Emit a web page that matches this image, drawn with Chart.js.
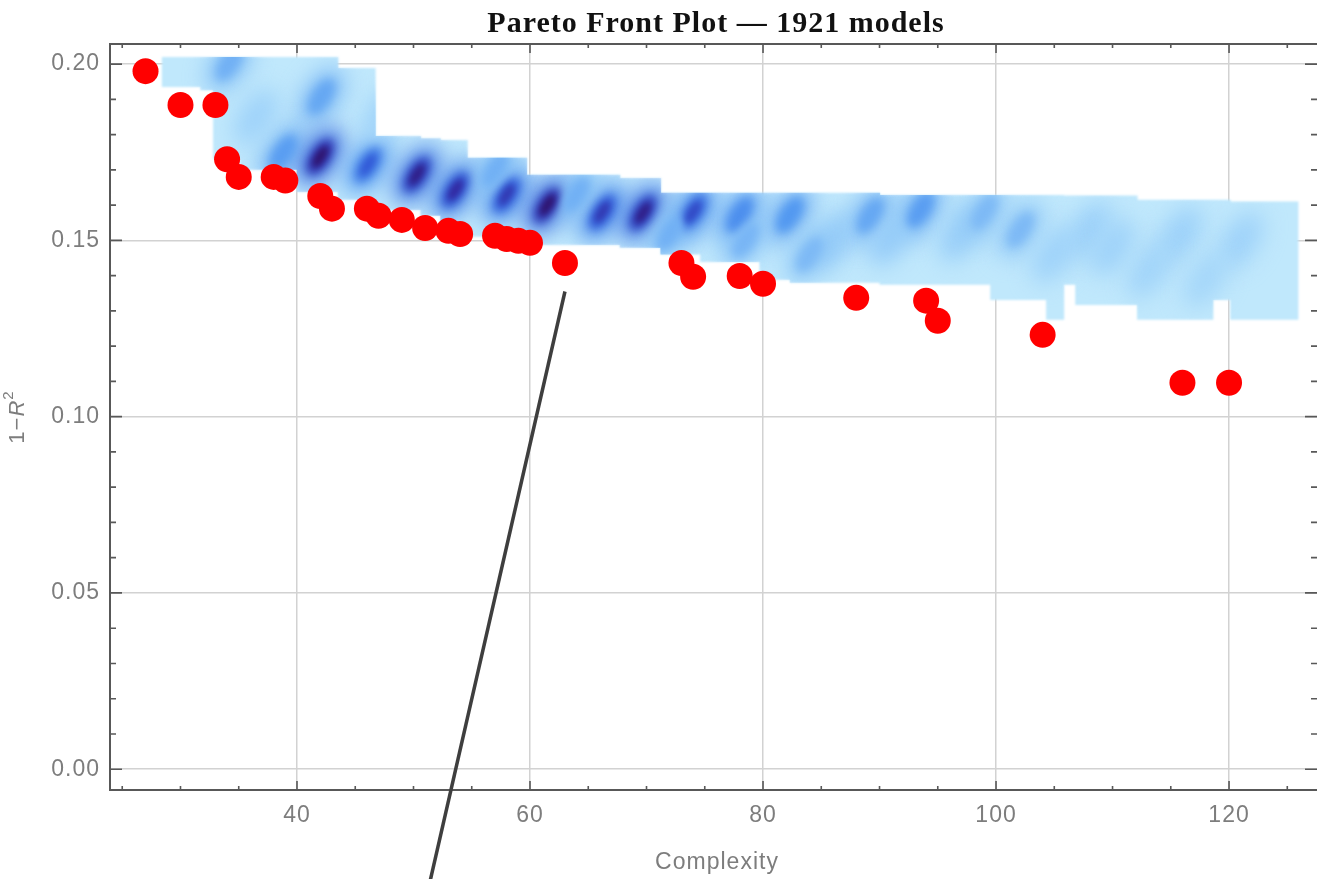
<!DOCTYPE html>
<html><head><meta charset="utf-8">
<script src="https://cdn.jsdelivr.net/npm/chart.js@4.4.1/dist/chart.umd.min.js"></script>
<style>html,body{margin:0;padding:0;background:#fff;overflow:hidden}#wrap{width:1317px;height:879px;position:relative}</style>
</head><body><div id="wrap"><canvas id="c"></canvas></div>
<script>
// Pareto front models (complexity vs 1-R^2)
const paretoComplexity = [27,30,33,34,35,38,39,42,43,46,47,49,51,53,54,57,58,59,60,63,73,74,78,80,88,94,95,104,116,120];
const paretoError = [0.198,0.1884,0.1884,0.173,0.168,0.168,0.167,0.1626,0.159,0.159,0.157,0.1558,0.1535,0.1527,0.1518,0.1513,0.1504,0.1499,0.1493,0.1436,0.1436,0.1397,0.1399,0.1377,0.1337,0.1329,0.1272,0.1232,0.1096,0.1096];
// pointer line
const lineComplexity = [63.0, 51.2];
const lineError = [0.1355, -0.035];
// density band of all models (column spans)
const bandStart = [28.4,31.7,32.8,35.1,40.0,43.5,46.7,50.6,52.3,54.6,59.7,67.7,71.2,74.6,79.7,82.3,90.0,99.5,104.3,105.8,106.8,112.1,118.6,120.1];
const bandEnd   = [31.7,32.8,35.1,40.0,43.5,46.7,50.6,52.3,54.6,59.7,67.7,71.2,74.6,79.7,82.3,90.0,99.5,104.3,105.8,106.8,112.1,118.6,120.1,125.9];
const bandBottom= [0.1935,0.1926,0.173,0.170,0.1637,0.1615,0.1586,0.157,0.1535,0.151,0.1487,0.1479,0.146,0.1439,0.1388,0.138,0.1374,0.1331,0.1275,0.1374,0.1317,0.1275,0.1331,0.1275];
const bandTop   = [0.202,0.202,0.202,0.202,0.202,0.1989,0.1796,0.179,0.1785,0.1734,0.1686,0.1677,0.1635,0.1635,0.1635,0.1635,0.1629,0.1629,0.1629,0.1627,0.1627,0.1615,0.1615,0.1610];
// density concentrations
const spotX = [34.2,42.1,38.8,42.0,46.1,50.3,53.6,58.0,61.5,66.2,69.7,74.0,78.0,82.3,89.2,93.5,102.1,108.0,115.8,113.2,36.5,47.5,57.0,64.0,86.0,97.0,105.0,110.0,121.0,118.0,72.0,78.5,84.0,91.0,99.0];
const spotY = [0.2003,0.1907,0.1748,0.1737,0.1714,0.1686,0.1643,0.1629,0.160,0.158,0.1578,0.158,0.1572,0.1572,0.157,0.1586,0.153,0.153,0.1516,0.1416,0.185,0.186,0.170,0.163,0.150,0.152,0.146,0.148,0.150,0.139,0.152,0.150,0.146,0.151,0.158];
const spotI = [0.45,0.5,0.55,0.95,0.7,0.9,0.85,0.8,0.95,0.8,0.9,0.75,0.62,0.58,0.5,0.55,0.4,0.32,0.32,0.28,0.3,0.3,0.45,0.45,0.38,0.35,0.3,0.3,0.3,0.25,0.45,0.42,0.4,0.38,0.4];
const xTicks = [40,60,80,100,120];
const yTicks = [0.00,0.05,0.10,0.15,0.20];

const FRAME = 'rgb(88,88,88)';
const LABEL = 'rgb(125,125,125)';
const GRID = 'rgb(210,210,210)';

function cmap(t){
  const stops=[[0,[195,233,252]],[0.25,[150,205,248]],[0.5,[80,150,240]],[0.7,[50,90,215]],[0.85,[50,40,160]],[1,[45,10,85]]];
  for(let i=1;i<stops.length;i++){
    if(t<=stops[i][0]){
      const [a,ca]=stops[i-1],[b,cb]=stops[i];const f=(t-a)/(b-a);
      return 'rgb('+ca.map((v,k)=>Math.round(v+(cb[k]-v)*f)).join(',')+')';
    }
  }
  return 'rgb(45,10,85)';
}

const densityPlugin = {
  id:'density',
  beforeDatasetsDraw(chart){
    const {ctx, chartArea:a, scales:{x,y}} = chart;
    ctx.save();
    ctx.beginPath(); ctx.rect(a.left,a.top,a.right-a.left,a.bottom-a.top); ctx.clip();
    const band = new Path2D();
    for(let i=0;i<bandStart.length;i++){
      const x0=x.getPixelForValue(bandStart[i]), x1=x.getPixelForValue(bandEnd[i]);
      const y0=y.getPixelForValue(bandTop[i]), y1=y.getPixelForValue(bandBottom[i]);
      band.rect(x0,y0,x1-x0+0.6,y1-y0);
    }
    ctx.filter='blur(1.2px)';
    ctx.fillStyle='rgb(192,232,252)';
    ctx.fill(band);
    ctx.filter='none';
    ctx.clip(band);
    const passes=[
      {blur:'blur(11px)', rx:32, ry:17, k:0.68, min:0},
      {blur:'blur(5px)', rx:20, ry:9.5, k:0.85, min:0.4},
      {blur:'blur(3px)', rx:12, ry:5, k:1.0, min:0.65}
    ];
    for(const p of passes){
      ctx.filter=p.blur;
      for(let i=0;i<spotX.length;i++){
        if(spotI[i]<p.min) continue;
        const px=x.getPixelForValue(spotX[i]), py=y.getPixelForValue(spotY[i]);
        ctx.fillStyle=cmap(spotI[i]*p.k);
        ctx.beginPath();
        ctx.ellipse(px,py,p.rx,p.ry,-1.0,0,Math.PI*2);
        ctx.fill();
      }
    }
    ctx.restore();
  }
};

const framePlugin = {
  id:'frame',
  beforeDraw(chart){ chart.ctx.letterSpacing='1px'; },
  afterDraw(chart){
    const {ctx, chartArea:a, scales:{x,y}} = chart;
    ctx.save();
    ctx.strokeStyle=FRAME; ctx.lineWidth=2;
    ctx.beginPath(); ctx.moveTo(a.left,a.top); ctx.lineTo(a.right,a.top); ctx.stroke();
    ctx.lineWidth=1.6;
    for(let v=25; v<=125; v+=5){
      const px=x.getPixelForValue(v);
      const len = (v%20===0)?9:4;
      ctx.beginPath(); ctx.moveTo(px,a.bottom); ctx.lineTo(px,a.bottom-len);
      ctx.moveTo(px,a.top); ctx.lineTo(px,a.top+len); ctx.stroke();
    }
    for(let k=0;k<=20;k++){
      const v=k/100, py=y.getPixelForValue(v);
      const len=(k%5===0)?12:6;
      ctx.beginPath(); ctx.moveTo(a.left,py); ctx.lineTo(a.left+len,py);
      ctx.moveTo(a.right,py); ctx.lineTo(a.right-len,py); ctx.stroke();
    }
    // title
    ctx.fillStyle='#111';
    ctx.letterSpacing='1px';
    ctx.font='bold 30px "Liberation Serif", "DejaVu Serif", serif';
    ctx.textAlign='center'; ctx.textBaseline='alphabetic';
    ctx.fillText('Pareto Front Plot \u2014 1921 models', 716, 32);
    // x title
    ctx.letterSpacing='1px';
    ctx.fillStyle=LABEL;
    ctx.font='23px "Liberation Sans", Arial, sans-serif';
    ctx.textBaseline='middle';
    ctx.fillText('Complexity', 717, 863);
    // y title 1-R^2
    ctx.save();
    ctx.translate(18,417); ctx.rotate(-Math.PI/2);
    const f1='22px "Liberation Sans", Arial, sans-serif', f2='italic 22px "Liberation Sans", Arial, sans-serif', f3='15px "Liberation Sans", Arial, sans-serif';
    ctx.font=f1; const w1=ctx.measureText('1\u2212').width;
    ctx.font=f2; const w2=ctx.measureText('R').width;
    ctx.font=f3; const w3=ctx.measureText('2').width;
    let sx=-(w1+w2+w3)/2;
    ctx.textAlign='left'; ctx.textBaseline='middle';
    ctx.font=f1; ctx.fillText('1\u2212',sx,0); sx+=w1;
    ctx.font=f2; ctx.fillText('R',sx,0); sx+=w2;
    ctx.font=f3; ctx.fillText('2',sx,-9);
    ctx.restore();
    ctx.restore();
  }
};

new Chart(document.getElementById('c'), {
  type:'scatter',
  data:{datasets:[
    {label:'pointer', type:'line', data:lineComplexity.map((v,i)=>({x:v,y:lineError[i]})), borderColor:'rgb(62,62,62)', borderWidth:3.5, pointRadius:0, clip:false, order:0},
    {label:'Pareto front', data:paretoComplexity.map((v,i)=>({x:v,y:paretoError[i]})), backgroundColor:'rgb(255,0,0)', borderWidth:0, pointRadius:13, pointHoverRadius:13, order:1}
  ]},
  options:{
    responsive:true, maintainAspectRatio:false, animation:false,
    layout:{autoPadding:false, padding:{left:0,right:0,top:44,bottom:0}},
    plugins:{legend:{display:false}, tooltip:{enabled:false}, title:{display:false}},
    scales:{
      x:{type:'linear', min:23.95, max:127.55,
        afterBuildTicks(s){ s.ticks = xTicks.map(v=>({value:v})); },
        afterFit(s){ s.height=89; s.paddingLeft=0; s.paddingRight=0; },
        grid:{color:GRID, lineWidth:1.5, drawTicks:false},
        border:{display:true, color:FRAME, width:2},
        ticks:{padding:12, color:LABEL, font:{family:'"Liberation Sans", Arial, sans-serif', size:23}, callback:v=>String(v), maxRotation:0}
      },
      y:{type:'linear', min:-0.0059, max:0.2057,
        afterBuildTicks(s){ s.ticks = yTicks.map(v=>({value:v})); },
        afterFit(s){ s.width=110; s.paddingTop=0; s.paddingBottom=0; },
        grid:{color:GRID, lineWidth:1.5, drawTicks:false},
        border:{display:true, color:FRAME, width:2},
        ticks:{padding:10, color:LABEL, font:{family:'"Liberation Sans", Arial, sans-serif', size:23}, callback:v=>Number(v).toFixed(2)}
      }
    }
  },
  plugins:[densityPlugin, framePlugin]
});
</script></body></html>
